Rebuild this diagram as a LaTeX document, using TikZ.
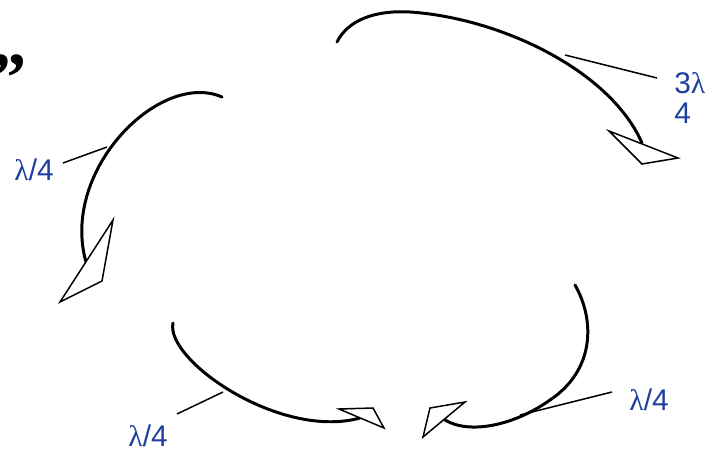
\documentclass[tikz,border=0pt]{standalone}
\usepackage{fontspec}
\setmainfont{Liberation Sans}
\newfontfamily\lamfont{Liberation Serif}
\usepackage{tikz}
\usetikzlibrary{positioning}
\definecolor{labelblue}{RGB}{31,63,159}
\newcommand{\lam}{{\lamfont λ}}

\begin{document}
\begin{tikzpicture}[
        x=0.02cm, y=-0.02cm,
        curve/.style={line width=1.7pt, line cap=round},
        head/.style={draw, fill=white, line width=0.85pt, line join=miter},
        leader/.style={line width=0.85pt},
        waveLabel/.style={text=labelblue, font=\fontsize{17}{19}\selectfont, inner sep=0pt, align=left}
    ]
    \useasboundingbox (0,0) rectangle (707,453);

    % quote mark at the edge
    \node[anchor=base west, inner sep=0pt, font=\lamfont\bfseries\fontsize{40}{40}\selectfont] (quote) at (-9,101) {”};

    % top arc (3 lambda/4)
    \coordinate (topStart) at (337,42);
    \coordinate (topPeak) at (410,12);
    \coordinate (topEnd) at (642,143);
    \draw[curve] (topStart) .. controls (348,20) and (375,10) .. (topPeak)
                 .. controls (500,18) and (610,70) .. (topEnd);
    \draw[head] (609,131) -- (678,158) -- (642,164) -- cycle;
    \node[waveLabel, anchor=north west] (labTop) at (674,72) {3\lam\\[-2pt]4};
    \coordinate (onTop) at (565,55);
    \coordinate (fromTop) at (657,78);
    \draw[leader] (fromTop) -- (onTop);

    % left arc
    \coordinate (leftStart) at (222,97);
    \coordinate (leftEnd) at (86,262);
    \draw[curve] (leftStart) .. controls (160,70) and (60,170) .. (leftEnd);
    \draw[head] (113,220) -- (102,281) -- (60,302) -- cycle;
    \node[waveLabel] (labLeft) at (34,170) {\lam/4};
    \coordinate (onLeft) at (107,147);
    \coordinate (fromLeft) at (63,163);
    \draw[leader] (fromLeft) -- (onLeft);

    % bottom left arc
    \coordinate (blStart) at (173,323);
    \coordinate (blEnd) at (360,418);
    \draw[curve] (blStart) .. controls (165,360) and (280,440) .. (blEnd);
    \draw[head] (339,409) -- (373,408) -- (384,428) -- cycle;
    \node[waveLabel] (labBotLeft) at (148,436) {\lam/4};
    \coordinate (onBotLeft) at (223,392);
    \coordinate (fromBotLeft) at (177,414);
    \draw[leader] (fromBotLeft) -- (onBotLeft);

    % bottom right arc
    \coordinate (brStart) at (575,285);
    \coordinate (brMid) at (550,400);
    \coordinate (brEnd) at (445,420);
    \draw[curve] (brStart) .. controls (595,320) and (595,370) .. (brMid)
                 .. controls (515,425) and (470,435) .. (brEnd);
    \draw[head] (430,408) -- (465,402) -- (423,437) -- cycle;
    \node[waveLabel] (labBotRight) at (649,400) {\lam/4};
    \coordinate (onBotRight) at (520,415);
    \coordinate (fromBotRight) at (612,392);
    \draw[leader] (fromBotRight) -- (onBotRight);

    \end{tikzpicture}
\end{document}
